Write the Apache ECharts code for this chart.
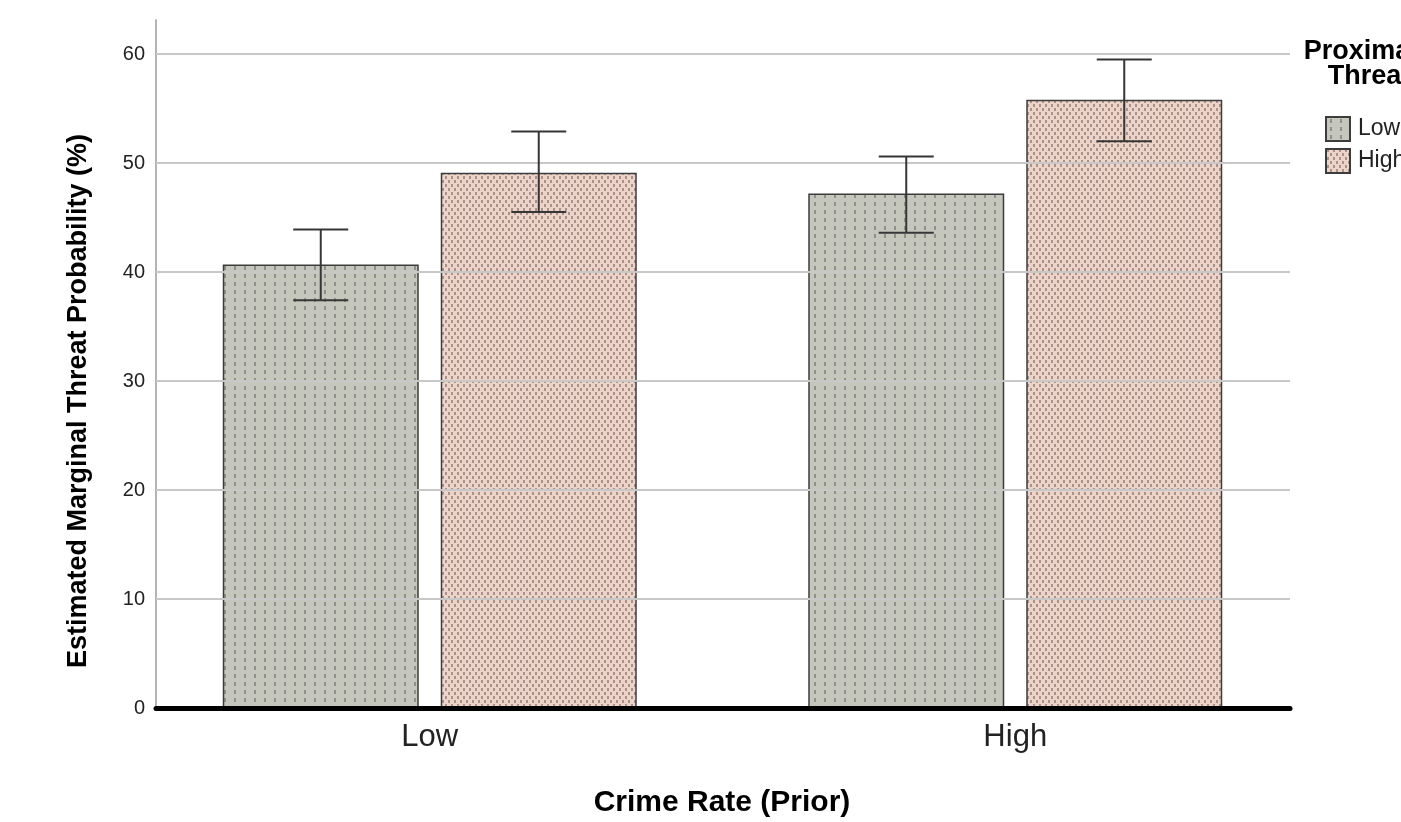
<!DOCTYPE html>
<html>
<head>
<meta charset="utf-8">
<title>Estimated Marginal Threat Probability</title>
<script src="https://cdn.jsdelivr.net/npm/echarts@6/dist/echarts.min.js"></script>
<style>
  html, body { margin: 0; padding: 0; background: #ffffff; }
  #chart { width: 1401px; height: 822px; }
</style>
</head>
<body>
<div id="chart"></div>
<script>
// Crime rate (prior) groups on the x axis
const categories = ['Low', 'High'];
// Proximate threat levels (one bar series each)
const seriesNames = ['Low', 'High'];
// Estimated marginal threat probability (%)
const lowThreat = [40.7, 47.2];
const highThreat = [49.1, 55.8];
// Confidence intervals [lower, upper]
const lowThreatCI = [[37.4, 43.9], [43.6, 50.6]];
const highThreatCI = [[45.5, 52.9], [52.0, 59.5]];
// Y axis tick values and labels
const yTicks = [0, 10, 20, 30, 40, 50, 60];
const yTickLabels = ['0', '10', '20', '30', '40', '50', '60'];

const FONT = '"Liberation Sans", Arial, sans-serif';
const Y_MAX = 63.12;

// Small repeating tiles for the dotted bar fills
function makePattern(w, h, bg, fg, dashes) {
  const c = document.createElement('canvas');
  c.width = w; c.height = h;
  const g = c.getContext('2d');
  g.fillStyle = bg;
  g.fillRect(0, 0, w, h);
  g.fillStyle = fg;
  dashes.forEach(d => g.fillRect(d[0], d[1], d[2], d[3]));
  return { image: c, repeat: 'repeat' };
}
const grayFill = makePattern(10, 8, '#c5c6bc', '#8f908a', [[4, 2, 2, 4]]);
const pinkFill = makePattern(6, 8, '#ecd4c9', '#a8928b', [[1, 0, 2, 3], [4, 4, 2, 3]]);

// Error bar rows: [category index, lower, upper, side (-1 left bar, +1 right bar)]
const errorRows = [];
lowThreatCI.forEach((ci, i) => errorRows.push([i, ci[0], ci[1], -1]));
highThreatCI.forEach((ci, i) => errorRows.push([i, ci[0], ci[1], 1]));

const BAR_WIDTH = 196;
const BAR_GAP = 22;
const CAP_HALF = 27.5;

function renderErrorBar(params, api) {
  const cat = api.value(0);
  const side = api.value(3);
  const base = api.coord([cat, api.value(1)]);
  const top = api.coord([cat, api.value(2)]);
  const x = base[0] + side * (BAR_WIDTH + BAR_GAP) / 2;
  const style = { stroke: '#363636', lineWidth: 2 };
  return {
    type: 'group',
    children: [
      { type: 'line', shape: { x1: x, y1: base[1], x2: x, y2: top[1] }, style },
      { type: 'line', shape: { x1: x - CAP_HALF, y1: top[1], x2: x + CAP_HALF, y2: top[1] }, style },
      { type: 'line', shape: { x1: x - CAP_HALF, y1: base[1], x2: x + CAP_HALF, y2: base[1] }, style }
    ]
  };
}

const chart = echarts.init(document.getElementById('chart'), null, { renderer: 'canvas' });

chart.setOption({
  animation: false,
  backgroundColor: '#ffffff',
  textStyle: { fontFamily: FONT },
  grid: [
    { left: 156, right: 111, top: 20, bottom: 114 },
    { left: 137, right: 93, top: 20, bottom: 114 }
  ],
  xAxis: [
    {
      gridIndex: 0, type: 'category', data: categories, z: 10,
      axisLine: { show: true, lineStyle: { color: '#000000', width: 5 } },
      axisTick: { show: false }, axisLabel: { show: false }, splitLine: { show: false }
    },
    {
      gridIndex: 1, type: 'category', data: categories,
      axisLine: { show: false }, axisTick: { show: false }, splitLine: { show: false },
      axisLabel: { fontSize: 31, color: '#222222', margin: 14, fontFamily: FONT }
    }
  ],
  yAxis: [
    {
      gridIndex: 0, type: 'value', min: 0, max: Y_MAX, interval: 10,
      axisLine: { show: true, lineStyle: { color: '#b4b4b4', width: 2 } },
      axisTick: { show: false }, splitLine: { show: false },
      axisLabel: {
        fontSize: 20, color: '#222222', margin: 11, fontFamily: FONT,
        formatter: v => {
          const i = yTicks.indexOf(Math.round(v * 1000) / 1000);
          return i >= 0 ? yTickLabels[i] : '';
        }
      }
    },
    { gridIndex: 1, type: 'value', min: 0, max: Y_MAX, show: false }
  ],
  legend: {
    data: seriesNames,
    orient: 'vertical',
    left: 1325, top: 116, padding: 0,
    itemWidth: 24, itemHeight: 24, itemGap: 6,
    icon: 'rect',
    textStyle: { fontSize: 23, color: '#222222', fontFamily: FONT, padding: [0, 0, 0, 3] }
  },
  series: [
    {
      type: 'line', xAxisIndex: 0, yAxisIndex: 0, data: [], z: 1, silent: true,
      markLine: {
        silent: true, symbol: ['none', 'none'], label: { show: false },
        lineStyle: { color: '#c8c8c8', width: 2, type: 'solid' },
        data: yTicks.filter(v => v > 0).map(v => ({ yAxis: v }))
      }
    },
    {
      name: seriesNames[0], type: 'bar', xAxisIndex: 1, yAxisIndex: 1,
      data: lowThreat, barWidth: BAR_WIDTH, barGap: (BAR_GAP / BAR_WIDTH * 100) + '%',
      itemStyle: { color: grayFill, borderColor: '#3c3c3c', borderWidth: 1.5 }
    },
    {
      name: seriesNames[1], type: 'bar', xAxisIndex: 1, yAxisIndex: 1,
      data: highThreat, barWidth: BAR_WIDTH, barGap: (BAR_GAP / BAR_WIDTH * 100) + '%',
      itemStyle: { color: pinkFill, borderColor: '#3c3c3c', borderWidth: 1.5 }
    },
    {
      type: 'custom', xAxisIndex: 1, yAxisIndex: 1, z: 5, silent: true,
      data: errorRows, encode: { x: 0, y: [1, 2] },
      renderItem: renderErrorBar
    }
  ],
  graphic: [
    {
      type: 'text', x: 79, y: 401, rotation: Math.PI / 2,
      style: {
        text: 'Estimated Marginal Threat Probability (%)',
        font: 'bold 27px ' + FONT, fill: '#000000', align: 'center', verticalAlign: 'middle'
      }
    },
    {
      type: 'text', x: 722, y: 803,
      style: {
        text: 'Crime Rate (Prior)',
        font: 'bold 30px ' + FONT, fill: '#000000', align: 'center', verticalAlign: 'middle'
      }
    },
    {
      type: 'text', x: 1369, y: 39,
      style: {
        text: 'Proximate\nThreat', lineHeight: 25,
        font: 'bold 27px ' + FONT, fill: '#000000', align: 'center', verticalAlign: 'top'
      }
    }
  ]
});
</script>
</body>
</html>
